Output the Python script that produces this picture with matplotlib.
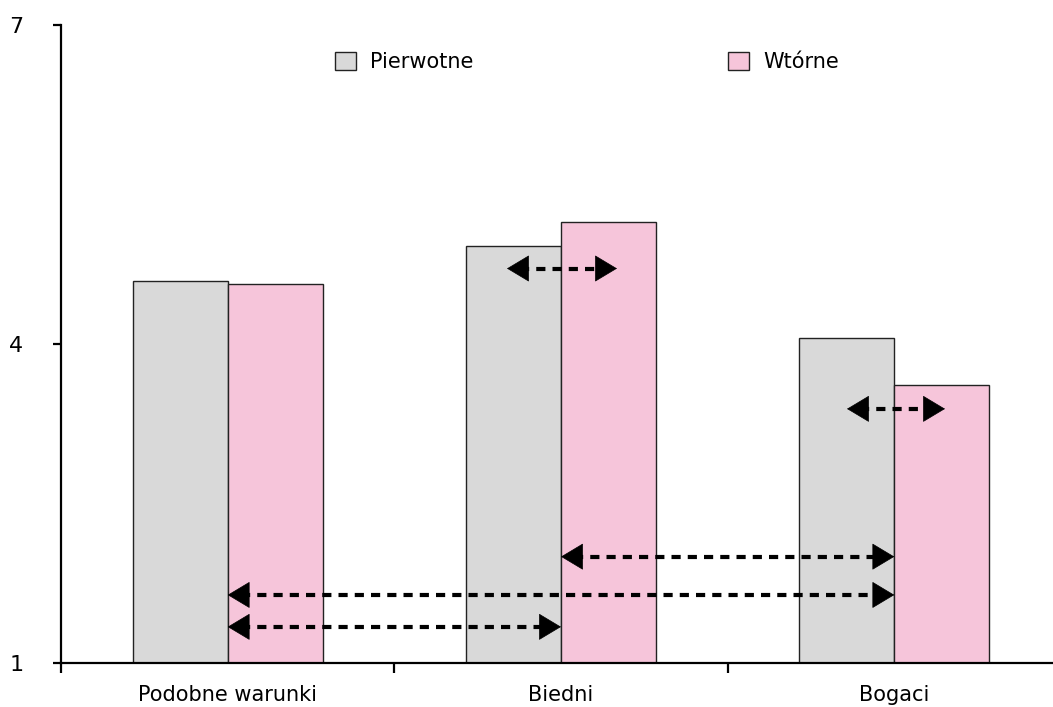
import numpy as np
import matplotlib.pyplot as plt

kategorie = ["Podobne warunki", "Biedni", "Bogaci"]
pierwotne = [4.59, 4.92, 4.06]
wtorne = [4.56, 5.15, 3.61]
etykiety_y = ["1", "4", "7"]
wartosci_y = [1, 4, 7]

# strzalki: (x od, x do, y)
strzalki = [(0.838, 1.168, 4.71),
            (1.858, 2.152, 3.39),
            (1.0, 2.0, 2.0),
            (0.0, 2.0, 1.64),
            (0.0, 1.0, 1.34)]

plt.rcParams['font.family'] = ['DejaVu Sans']

fig = plt.figure(figsize=(10.53, 7.07), dpi=100)
ax = fig.add_axes([61/1053, 44/707, 1000/1053, 638/707])

x = np.arange(len(kategorie))
w = 0.285
ax.bar(x - w/2, pierwotne, w, bottom=0, color='#D9D9D9', edgecolor='#222222',
       linewidth=1, label='Pierwotne', zorder=2)
ax.bar(x + w/2, wtorne, w, bottom=0, color='#F6C5DA', edgecolor='#222222',
       linewidth=1, label='Wtórne', zorder=2)

ax.set_xlim(-0.5, 2.5)
ax.set_ylim(1, 7)

for x0, x1, y in strzalki:
    ax.plot([x0 + 0.04, x1 - 0.04], [y, y], color='black', lw=3,
            dashes=(2.2, 1.7), zorder=3)
    for xa, xb in [(x0 + 0.05, x0), (x1 - 0.05, x1)]:
        ax.annotate('', xy=(xb, y), xytext=(xa, y),
                    arrowprops=dict(arrowstyle='-|>,head_length=0.75,head_width=0.45',
                                    mutation_scale=20, color='black', lw=0.5,
                                    shrinkA=0, shrinkB=0), zorder=4)

ax.spines['top'].set_visible(False)
ax.spines['right'].set_visible(False)
ax.spines['left'].set_linewidth(1.6)
ax.spines['bottom'].set_linewidth(1.6)

ax.set_yticks(wartosci_y)
ax.set_yticklabels(etykiety_y, fontsize=16)
ax.tick_params(axis='y', length=6, width=1.6, pad=21)

ax.set_xticks([-0.5, 0.5, 1.5, 2.5])
ax.set_xticklabels([])
ax.set_xticks(x, minor=True)
ax.set_xticklabels(kategorie, minor=True, fontsize=15)
ax.tick_params(axis='x', which='major', length=7, width=1.6)
ax.tick_params(axis='x', which='minor', length=0, pad=16)

ax.legend(loc='center left', bbox_to_anchor=(255/1000, 0.942), ncol=2,
          frameon=False, fontsize=15, handlelength=1.0, handleheight=1.0,
          handletextpad=0.7, columnspacing=12.2)

fig.savefig("out.png", dpi=100)
